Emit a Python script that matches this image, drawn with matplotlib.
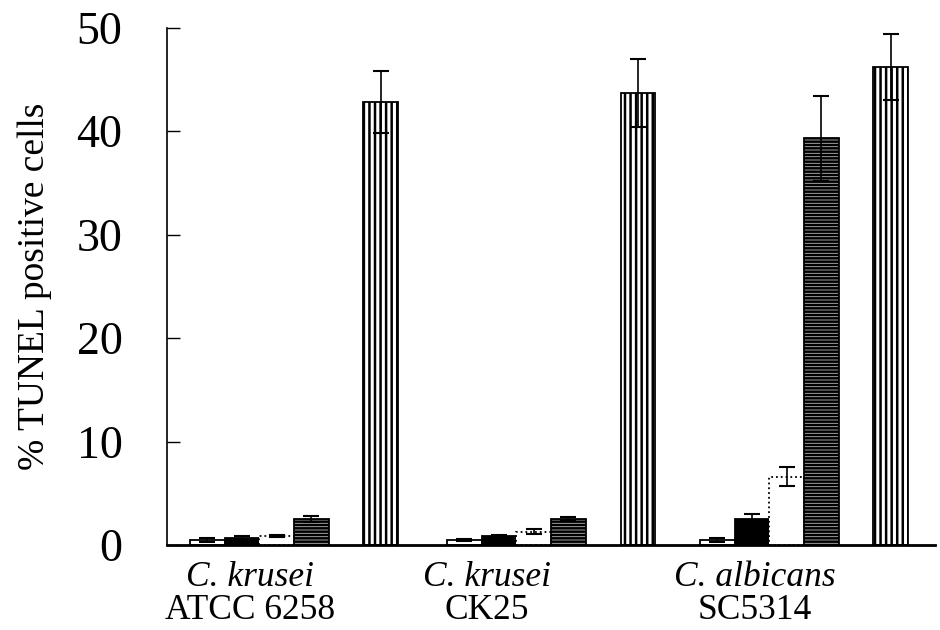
import matplotlib
matplotlib.use("Agg")
import matplotlib.pyplot as plt
import numpy as np

plt.rcParams['font.family'] = ['Liberation Serif', 'DejaVu Serif']
plt.rcParams['hatch.linewidth'] = 1.8

# strains on the x axis (species line, strain line)
species = ["C. krusei", "C. krusei", "C. albicans"]
strains = ["ATCC 6258", "CK25", "SC5314"]

# % TUNEL positive cells for the five treatments in each strain
treat1 = [0.5, 0.5, 0.5]
treat2 = [0.7, 0.9, 2.5]
treat3 = [0.9, 1.3, 6.6]
treat4 = [2.5, 2.5, 39.3]
treat5 = [42.8, 43.7, 46.2]

err1 = [0.2, 0.1, 0.2]
err2 = [0.15, 0.1, 0.5]
err3 = [0.1, 0.2, 0.9]
err4 = [0.3, 0.2, 4.1]
err5 = [3.0, 3.3, 3.2]

yticks = [0, 10, 20, 30, 40, 50]

fig = plt.figure(figsize=(9.4, 6.3), dpi=100)
ax = fig.add_axes([167 / 940, 85 / 630, 768 / 940, (545 - 27.7) / 630])

group_start = np.array([0.66, 8.07, 15.36])
label_x = [2.39, 9.22, 16.95]
slot_offsets = [0.5, 1.5, 2.5, 3.5, 5.5]
series = [treat1, treat2, treat3, treat4, treat5]
errors = [err1, err2, err3, err4, err5]
styles = [
    dict(color="white", hatch=None, linestyle="-"),
    dict(color="black", hatch=None, linestyle="-"),
    dict(color="white", hatch=None, linestyle=":"),
    dict(color="#b8b8b8", hatch="-----", linestyle="-"),
    dict(color="white", hatch="|||", linestyle="-"),
]

for off, vals, errs, st in zip(slot_offsets, series, errors, styles):
    xs = group_start + off
    ax.bar(xs, vals, width=1.0, color=st["color"], edgecolor="black",
           hatch=st["hatch"], linewidth=1.3, linestyle=st["linestyle"], zorder=2)
    ax.errorbar(xs, vals, yerr=errs, fmt="none", ecolor="black",
                elinewidth=1.2, capsize=5.5, capthick=1.5, zorder=3)

ax.set_xlim(0, 768 / 34.7)
ax.set_ylim(0, 50)
ax.set_yticks(yticks)
ax.tick_params(axis="y", direction="in", length=9.5, width=1.0,
               labelsize=33, pad=32)
ax.tick_params(axis="x", length=0)
ax.set_xticks(label_x)
ax.set_xticklabels([""] * 3)

for s in ["top", "right"]:
    ax.spines[s].set_visible(False)
ax.spines["left"].set_linewidth(1.2)
ax.spines["bottom"].set_linewidth(2.0)

ax.set_ylabel("% TUNEL positive cells", fontsize=27, labelpad=18)

for gx, sp, st in zip(label_x, species, strains):
    ax.text(gx, -1.5, sp, ha="center", va="top", fontsize=25.5,
            style="italic")
    ax.text(gx, -4.7, st, ha="center", va="top", fontsize=25.5)

fig.savefig("out.png", dpi=100)
